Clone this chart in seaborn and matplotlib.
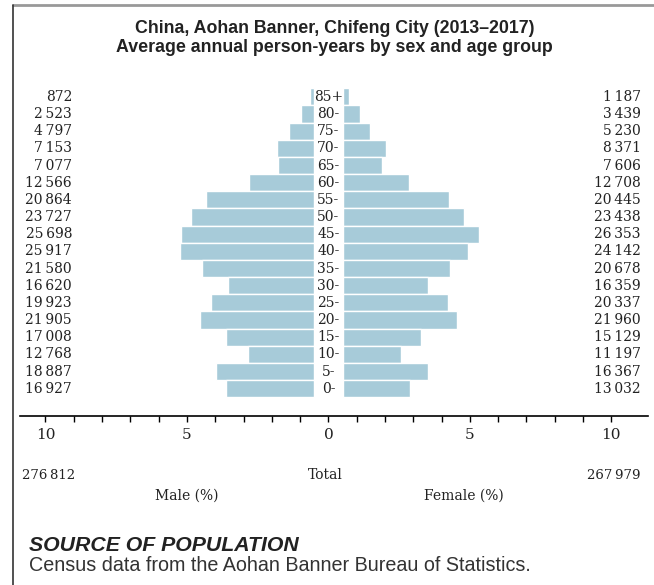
import numpy as np
import pandas as pd
import seaborn as sns
import matplotlib.pyplot as plt
from matplotlib.lines import Line2D

# Dados: pessoas-ano médias anuais por sexo e faixa etária
idades = ['85+', '80-', '75-', '70-', '65-', '60-', '55-', '50-', '45-',
          '40-', '35-', '30-', '25-', '20-', '15-', '10-', '5-', '0-']
homens = [872, 2523, 4797, 7153, 7077, 12566, 20864, 23727, 25698,
          25917, 21580, 16620, 19923, 21905, 17008, 12768, 18887, 16927]
mulheres = [1187, 3439, 5230, 8371, 7606, 12708, 20445, 23438, 26353,
            24142, 20678, 16359, 20337, 21960, 15129, 11197, 16367, 13032]
total_homens = '276\u2009812'
total_mulheres = '267\u2009979'
ticks_x = list(range(-10, 11))
rotulos_x = ['10', '5', '0', '5', '10']

total = sum(homens) + sum(mulheres)
dados = pd.DataFrame({
    'idade': idades,
    'homens': np.array(homens) / total * 100,
    'mulheres': np.array(mulheres) / total * 100,
})

sns.set_style('white')
plt.rcParams['font.family'] = ['DejaVu Serif']

cor = '#a7cbd9'
meio = 0.5  # meia largura da faixa central com as idades

fig = plt.figure(figsize=(6.54, 5.85), dpi=100)
ax = fig.add_axes([0.0306, 0.2894, 0.9604, 0.5597])

sns.barplot(data=dados, x=-dados['homens'], y='idade', order=idades, orient='h',
            left=-meio, color=cor, width=1, edgecolor='white', linewidth=1,
            saturation=1, ax=ax)
sns.barplot(data=dados, x='mulheres', y='idade', order=idades, orient='h',
            left=meio, color=cor, width=1, edgecolor='white', linewidth=1,
            saturation=1, ax=ax)

# rótulos das idades no centro e valores absolutos nas laterais
for i, idade in enumerate(idades):
    ax.text(0, i, idade, ha='center', va='center', fontsize=10, color='#222222')
    ax.text(-9.06, i, f'{homens[i]:,}'.replace(',', '\u2009'), ha='right',
            va='center', fontsize=10, color='#222222')
    ax.text(11.04, i, f'{mulheres[i]:,}'.replace(',', '\u2009'), ha='right',
            va='center', fontsize=10, color='#222222')

ax.set_xlim(-10.9, 11.3)
ax.set_ylim(len(idades) - 0.5 + 1.07, -0.5)
ax.set_xticks(ticks_x)
ax.set_xticklabels([rotulos_x[(t + 10) // 5] if t % 5 == 0 else '' for t in ticks_x],
                   fontsize=11, color='#222222')
ax.tick_params(axis='x', direction='out', length=4, width=1, color='black',
               pad=5, bottom=True)
ax.set_yticks([])
ax.set_xlabel('')
ax.set_ylabel('')
for lado in ['top', 'left', 'right']:
    ax.spines[lado].set_visible(False)
ax.spines['bottom'].set_color('black')
ax.spines['bottom'].set_linewidth(1.2)

# títulos e textos do rodapé
fig.text(0.512, 0.952, 'China, Aohan Banner, Chifeng City (2013\u20132017)',
         ha='center', va='center', fontsize=12.8, fontweight='bold',
         family='Liberation Sans', color='#222222')
fig.text(0.512, 0.918, 'Average annual person-years by sex and age group',
         ha='center', va='center', fontsize=12.8, fontweight='bold',
         family='Liberation Sans', color='#222222')

fig.text(0.033, 0.188, total_homens, ha='left', va='center', fontsize=9.5, color='#222222')
fig.text(0.497, 0.188, 'Total', ha='center', va='center', fontsize=10, color='#222222')
fig.text(0.979, 0.188, total_mulheres, ha='right', va='center', fontsize=9.5, color='#222222')
fig.text(0.286, 0.152, 'Male (%)', ha='center', va='center', fontsize=10, color='#222222')
fig.text(0.709, 0.152, 'Female (%)', ha='center', va='center', fontsize=10, color='#222222')

fig.text(0.0443, 0.068, 'SOURCE OF POPULATION', ha='left', va='center', fontsize=15.3,
         fontweight='bold', style='italic', family='Liberation Sans', color='#222222')
fig.text(0.0443, 0.0325, 'Census data from the Aohan Banner Bureau of Statistics.',
         ha='left', va='center', fontsize=14.2, family='Liberation Sans', color='#333333')

# moldura
fig.add_artist(Line2D([0.02, 1], [0.9915, 0.9915], transform=fig.transFigure,
                      color='#999999', linewidth=2))
fig.add_artist(Line2D([0.02, 0.02], [0, 0.9915], transform=fig.transFigure,
                      color='#333333', linewidth=1.2))

fig.savefig('out.png', dpi=100)
